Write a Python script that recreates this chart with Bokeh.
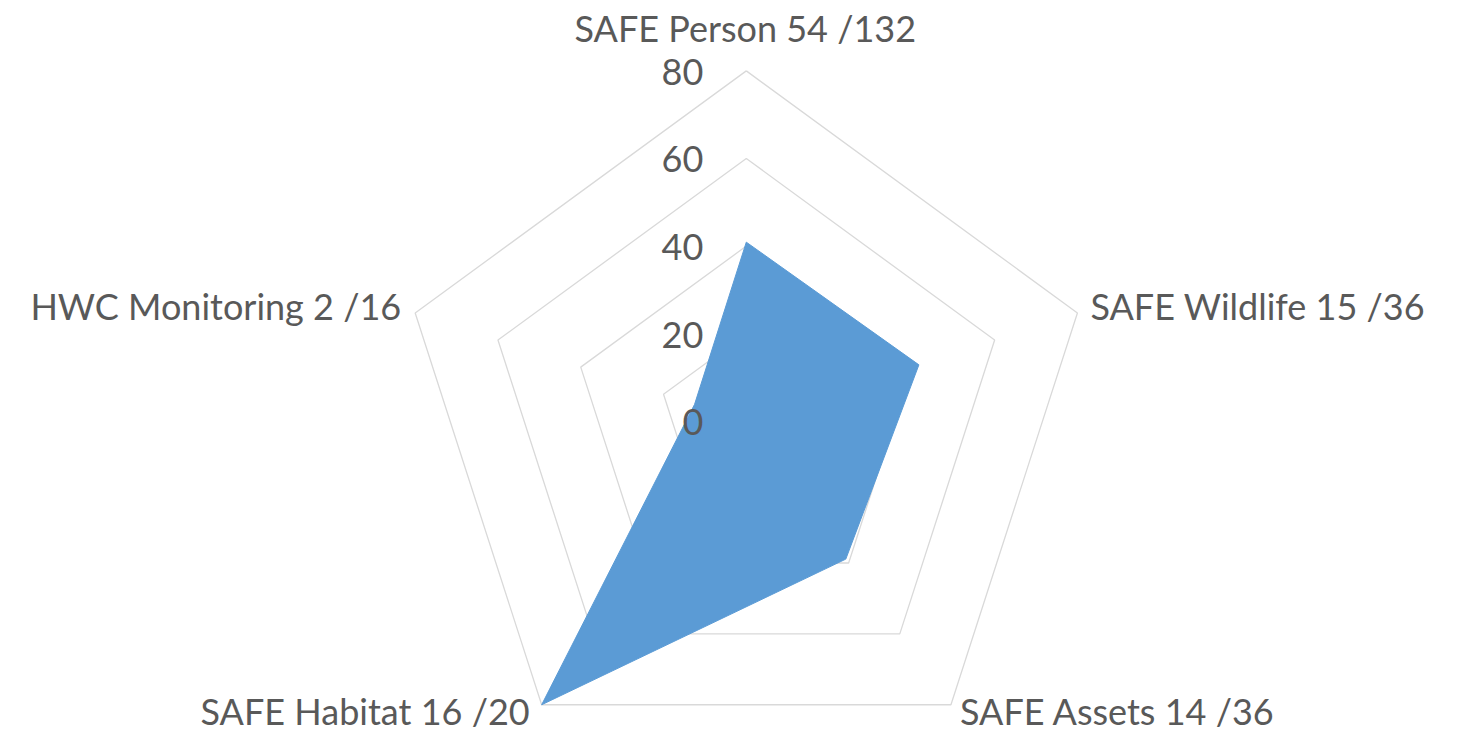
import math
from bokeh.plotting import figure
from bokeh.models import Range1d, ColumnDataSource
from bokeh.core.properties import value
from bokeh.embed import file_html
from bokeh.resources import INLINE

# ---- data ----
categories = ["SAFE Person 54 /132", "SAFE Wildlife 15 /36", "SAFE Assets 14 /36",
              "SAFE Habitat 16 /20", "HWC Monitoring 2 /16"]
scores = [40.9, 41.7, 38.9, 80.0, 12.5]
ticks = [0, 20, 40, 60, 80]
tick_labels = ["0", "20", "40", "60", "80"]
r_max = 80

FONT = "Lato"
TXT = "#595959"
FS = "36px"

n = len(categories)
angles = [math.pi / 2 - 2 * math.pi * i / n for i in range(n)]

p = figure(width=1449, height=735, output_backend="svg", toolbar_location=None,
           x_range=Range1d(-171.37, 161.58), y_range=Range1d(-71.74, 96.07),
           min_border=0, background_fill_color="white", border_fill_color="white")
p.axis.visible = False
p.grid.visible = False
p.outline_line_color = None

# rings
for t in ticks[1:]:
    xs = [t * math.cos(a) for a in angles] + [t * math.cos(angles[0])]
    ys = [t * math.sin(a) for a in angles] + [t * math.sin(angles[0])]
    p.line(xs, ys, line_color="#D9D9D9", line_width=1.3)

# data polygon
px = [s * math.cos(a) for s, a in zip(scores, angles)]
py = [s * math.sin(a) for s, a in zip(scores, angles)]
p.patch(px, py, fill_color="#5B9BD5", line_color="#5B9BD5", line_width=1)

# tick labels
p.text(x=[0] * len(ticks), y=ticks, text=tick_labels, text_align="right",
       text_baseline="alphabetic", x_offset=-43, y_offset=1,
       text_font=value(FONT), text_font_size=FS, text_color=TXT)

# category labels
vx = [r_max * math.cos(a) for a in angles]
vy = [r_max * math.sin(a) for a in angles]
aligns = ["center", "left", "left", "right", "right"]
xoff = [-1, 13, 9, -12, -14]
yoff = [-43, -7, 6, 6, -7]
src = ColumnDataSource(dict(x=vx, y=vy, text=categories, align=aligns, xo=xoff, yo=yoff))
p.text(x="x", y="y", text="text", source=src, text_align="align",
       text_baseline="alphabetic", x_offset="xo", y_offset="yo",
       text_font=value(FONT), text_font_size=FS, text_color=TXT)

open("out.html", "w").write(file_html(p, INLINE))
